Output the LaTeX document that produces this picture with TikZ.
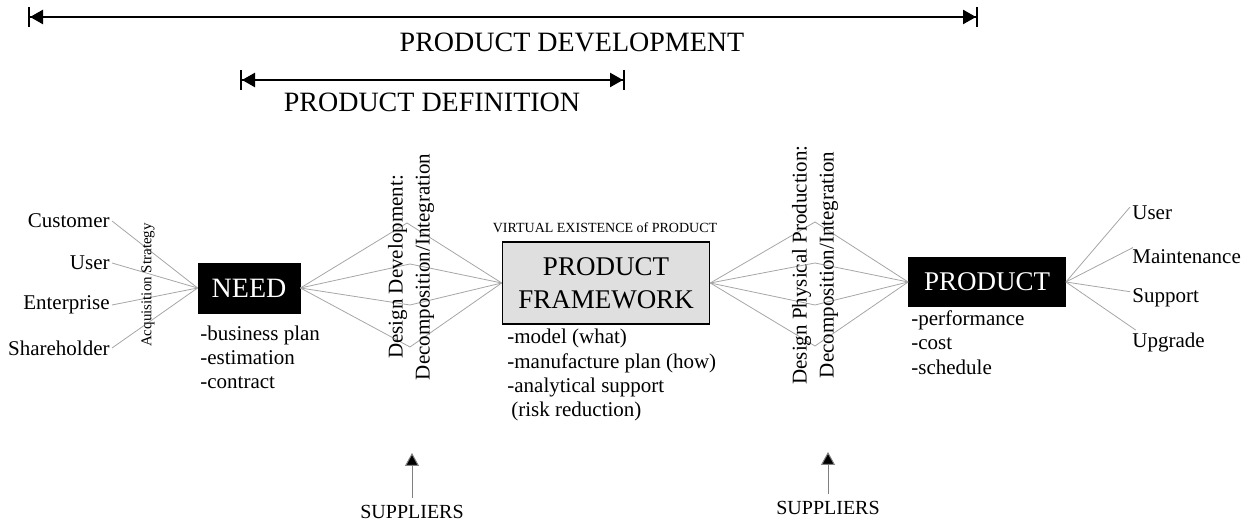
\documentclass[tikz,border=0pt]{standalone}
\usepackage{fontspec}
\setmainfont{Liberation Serif}
\usetikzlibrary{positioning,arrows.meta}

\newcommand{\fsz}[2]{\fontsize{#1}{#2}\selectfont}

\begin{document}
\begin{tikzpicture}[
    x=0.5pt, y=-0.5pt,
    every node/.style={font=\fsz{10.5}{12}},
    lab/.style={inner sep=1pt},
    fan/.style={draw=gray!70, line width=0.4pt},
    darkbox/.style={draw=black, fill=black, text=white},
    note/.style={align=left, anchor=north west, inner sep=0pt},
    span/.style={line width=1.2pt, arrows={Bar[width=10pt,line width=1pt]Triangle[length=6.5pt,width=7pt]-Triangle[length=6.5pt,width=7pt]Bar[width=10pt,line width=1pt]}},
    feed/.style={draw=gray, line width=0.5pt, arrows={-Triangle[length=6.5pt,width=7pt,fill=black]}},
    upright/.style={rotate=90, align=center, font=\fsz{10.5}{13.5}}
]

\useasboundingbox (0,0) rectangle (1241,522);

\coordinate (devL) at (28,17);
\coordinate (devR) at (978,17);
\coordinate (defL) at (240,80);
\coordinate (defR) at (625,80);

\node[font=\fsz{14}{16}] (pdev) at (572,42) {PRODUCT DEVELOPMENT};
\node[font=\fsz{14}{16}] (pdef) at (432,102) {PRODUCT DEFINITION};

\node[lab, anchor=east] (customer) at (112,221) {Customer};
\node[lab, anchor=east] (user) at (112,263) {User};
\node[lab, anchor=east] (enterprise) at (112,305) {Enterprise};
\node[lab, anchor=east] (shareholder) at (112,348) {Shareholder};

\node[darkbox, minimum width=51pt, minimum height=25pt, font=\fsz{14}{16}] (need) at (249,288) {NEED};
\node[draw, line width=0.8pt, fill=gray!25, align=center, minimum width=103.5pt, minimum height=41pt, font=\fsz{13.5}{16.5}] (frame) at (606,283) {PRODUCT\\FRAMEWORK};
\node[darkbox, minimum width=78.5pt, minimum height=24.5pt, font=\fsz{13.5}{16}] (prod) at (987,282) {PRODUCT};

\node[font=\fsz{7}{8}] (virtual) at (605,228) {VIRTUAL EXISTENCE of PRODUCT};

\node[lab, anchor=west] (puser) at (1130,213) {User};
\node[lab, anchor=west] (maint) at (1130,257) {Maintenance};
\node[lab, anchor=west] (support) at (1130,298) {Support};
\node[lab, anchor=west] (upgrade) at (1130,342) {Upgrade};

\coordinate (dl1) at (407,223);
\coordinate (dl2) at (410,264);
\coordinate (dl3) at (410,305);
\coordinate (dl4) at (410,347);
\coordinate (dr1) at (815,222);
\coordinate (dr2) at (815,263);
\coordinate (dr3) at (815,305);
\coordinate (dr4) at (815,346);

\draw[fan] (customer.east) -- (need.west);
\draw[fan] (user.east) -- (need.west);
\draw[fan] (enterprise.east) -- (need.west);
\draw[fan] (shareholder.east) -- (need.west);

\draw[fan] (need.east) -- (dl1) -- (frame.west);
\draw[fan] (need.east) -- (dl2) -- (frame.west);
\draw[fan] (need.east) -- (dl3) -- (frame.west);
\draw[fan] (need.east) -- (dl4) -- (frame.west);

\draw[fan] (frame.east) -- (dr1) -- (prod.west);
\draw[fan] (frame.east) -- (dr2) -- (prod.west);
\draw[fan] (frame.east) -- (dr3) -- (prod.west);
\draw[fan] (frame.east) -- (dr4) -- (prod.west);

\draw[fan] (prod.east) -- (puser.165);
\draw[fan] (prod.east) -- (maint.170);
\draw[fan] (prod.east) -- (support.170);
\draw[fan] (prod.east) -- (upgrade.160);

\node[rotate=90, font=\fsz{7.5}{9}] (acq) at (148,285) {Acquisition Strategy};
\node[upright] (ddev) at (411,267) {Design Development:\\Decomposition/Integration};
\node[upright] (dphys) at (815,265) {Design Physical Production:\\Decomposition/Integration};

\node[note] (needlist) at (200,326) {-business plan\\-estimation\\-contract};
\node[note, font=\fsz{10.5}{12.15}] (framelist) at (507,329) {-model (what)\\-manufacture plan (how)\\-analytical support\\\hspace{2pt}(risk reduction)};
\node[note, font=\fsz{10.5}{12.25}] (prodlist) at (911,310) {-performance\\-cost\\-schedule};

\node[font=\fsz{10}{12}] (sup1) at (412,512) {SUPPLIERS};
\node[font=\fsz{10}{12}] (sup2) at (828,508) {SUPPLIERS};
\coordinate (tip1) at (412,453);
\coordinate (tip2) at (828,452);

\draw[span] (devL) -- (devR);
\draw[span] (defL) -- (defR);

\draw[feed] (sup1.north) -- (tip1);
\draw[feed] (sup2.north) -- (tip2);

\end{tikzpicture}
\end{document}
